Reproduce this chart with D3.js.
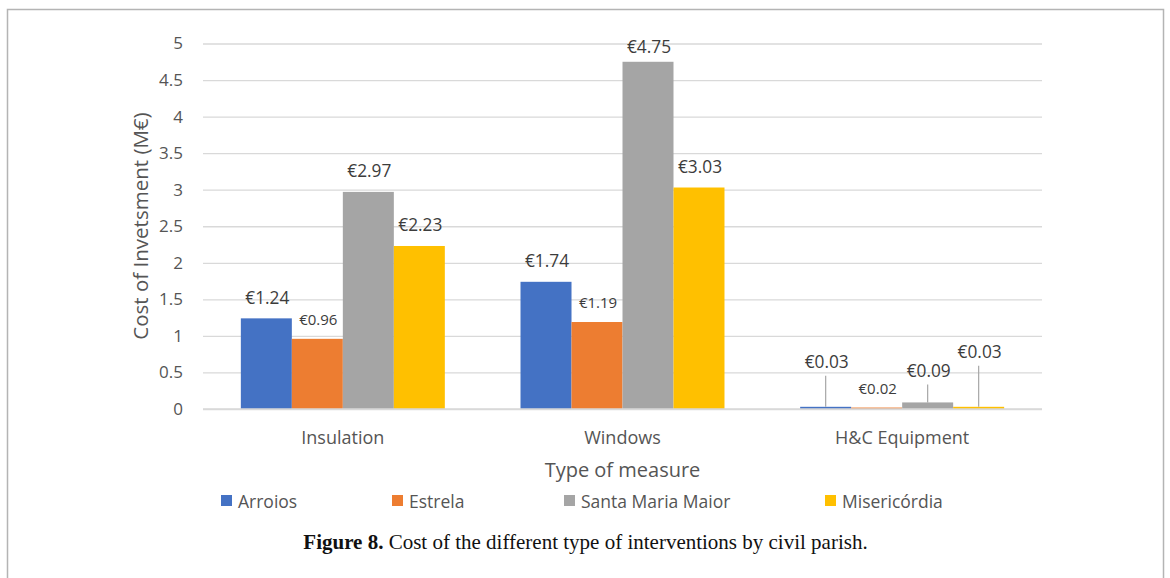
<!DOCTYPE html>
<html>
<head>
<meta charset="utf-8">
<script src="https://cdn.jsdelivr.net/npm/d3@7/dist/d3.min.js"></script>
<style>
  html, body { margin: 0; padding: 0; background: #fff; }
  svg { display: block; }
</style>
</head>
<body>
<svg id="chart" width="1170" height="578"></svg>
<script>
// ---- data ----
const categories = ["Insulation", "Windows", "H&C Equipment"];
const series = ["Arroios", "Estrela", "Santa Maria Maior", "Misericórdia"];
const arroios = [1.24, 1.74, 0.03];
const estrela = [0.96, 1.19, 0.02];
const santaMariaMaior = [2.97, 4.75, 0.09];
const misericordia = [2.23, 3.03, 0.03];
const yTicks = [0, 0.5, 1, 1.5, 2, 2.5, 3, 3.5, 4, 4.5, 5];
const yTickLabels = ["0", "0.5", "1", "1.5", "2", "2.5", "3", "3.5", "4", "4.5", "5"];
const yTitle = "Cost of Invetsment (M€)";
const xTitle = "Type of measure";
const captionBold = "Figure 8.";
const captionText = " Cost of the different type of interventions by civil parish.";

// ---- styling / layout ----
const colors = ["#4472c4", "#ed7d31", "#a5a5a5", "#ffc000"];
const values = [arroios, estrela, santaMariaMaior, misericordia];
const font = "'Open Sans', 'Noto Sans', sans-serif";
const textCol = "#555555";
const labelCol = "#3c3c3c";
const plot = { left: 203, right: 1042, top: 43.5, bottom: 409 };
// extra lift (px) of data labels that were moved, keyed "category|series"
// (positive lifts get a leader line down to the bar)
const liftedLabels = {
  "Windows|Santa Maria Maior": -6,
  "H&C Equipment|Arroios": 24,
  "H&C Equipment|Santa Maria Maior": 11,
  "H&C Equipment|Misericórdia": 34
};
const legendX = [221, 392, 564, 825];

const svg = d3.select("#chart");

// outer frame
svg.append("rect")
  .attr("x", 7.5).attr("y", 9.5).attr("width", 1156).attr("height", 620)
  .attr("fill", "none").attr("stroke", "#b4b4b4").attr("stroke-width", 1.5);

const x0 = d3.scaleBand().domain(categories).range([plot.left, plot.right]).padding(0);
const x1 = d3.scaleBand().domain(series).range([0, x0.bandwidth()]).paddingInner(0).paddingOuter(0.742);
const y = d3.scaleLinear().domain([0, 5]).range([plot.bottom, plot.top]);

// gridlines
const yAxis = d3.axisLeft(y).tickValues(yTicks)
  .tickSize(-(plot.right - plot.left)).tickPadding(20)
  .tickFormat((d, i) => yTickLabels[i]);
const gy = svg.append("g").attr("transform", `translate(${plot.left},0)`).call(yAxis);
gy.select(".domain").remove();
gy.selectAll(".tick line").attr("stroke", "#d9d9d9").attr("stroke-width", 1.3);
gy.selectAll(".tick text").attr("fill", textCol).style("font-family", font).style("font-size", "17px");

// bars
const rows = [];
categories.forEach((c, ci) => {
  series.forEach((s, si) => {
    rows.push({ c, s, si, v: values[si][ci] });
  });
});

svg.append("g").selectAll("rect").data(rows).join("rect")
  .attr("x", d => x0(d.c) + x1(d.s))
  .attr("width", x1.bandwidth())
  .attr("y", d => y(d.v))
  .attr("height", d => y(0) - y(d.v))
  .attr("fill", d => colors[d.si]);

// x axis baseline
svg.append("line")
  .attr("x1", plot.left).attr("x2", plot.right)
  .attr("y1", y(0)).attr("y2", y(0))
  .attr("stroke", "#d9d9d9").attr("stroke-width", 1.3);

// data labels
const lg = svg.append("g");
rows.forEach(d => {
  const cx = x0(d.c) + x1(d.s) + x1.bandwidth() / 2 + 1;
  const key = d.c + "|" + d.s;
  const lift = liftedLabels[key] || 0;
  const small = d.s === "Estrela";
  const cy = y(d.v) - (small ? 20 : 21) - lift;
  lg.append("text")
    .attr("x", cx).attr("y", cy)
    .attr("text-anchor", "middle").attr("dominant-baseline", "central")
    .attr("fill", labelCol)
    .style("font-family", font).style("font-size", small ? "15px" : "17.3px")
    .text("€" + d3.format(".2f")(d.v));
  if (lift > 0) {
    lg.append("line")
      .attr("x1", cx - 1).attr("x2", cx - 1)
      .attr("y1", cy + 14).attr("y2", y(d.v))
      .attr("stroke", "#a6a6a6").attr("stroke-width", 1.2);
  }
});

// category labels
svg.append("g").selectAll("text").data(categories).join("text")
  .attr("x", d => x0(d) + x0.bandwidth() / 2)
  .attr("y", 437)
  .attr("text-anchor", "middle").attr("dominant-baseline", "central")
  .attr("fill", textCol)
  .style("font-family", font).style("font-size", "18px")
  .text(d => d);

// axis titles
svg.append("text")
  .attr("x", (plot.left + plot.right) / 2).attr("y", 469)
  .attr("text-anchor", "middle").attr("dominant-baseline", "central")
  .attr("fill", textCol)
  .style("font-family", font).style("font-size", "20px")
  .text(xTitle);

svg.append("text")
  .attr("transform", "translate(140,226) rotate(-90)")
  .attr("text-anchor", "middle").attr("dominant-baseline", "central")
  .attr("fill", textCol)
  .style("font-family", font).style("font-size", "20.5px")
  .text(yTitle);

// legend
const leg = svg.append("g");
series.forEach((s, i) => {
  leg.append("rect")
    .attr("x", legendX[i]).attr("y", 495).attr("width", 11).attr("height", 11)
    .attr("fill", colors[i]);
  leg.append("text")
    .attr("x", legendX[i] + 17).attr("y", 501)
    .attr("dominant-baseline", "central")
    .attr("fill", textCol)
    .style("font-family", font).style("font-size", "17.5px")
    .text(s);
});

// caption
const cap = svg.append("text")
  .attr("x", 585.5).attr("y", 549)
  .attr("text-anchor", "middle")
  .attr("fill", "#111")
  .style("font-family", "'Liberation Serif', 'DejaVu Serif', serif")
  .style("font-size", "21px");
cap.append("tspan").attr("font-weight", "bold").text(captionBold);
cap.append("tspan").text(captionText);
</script>
</body>
</html>
